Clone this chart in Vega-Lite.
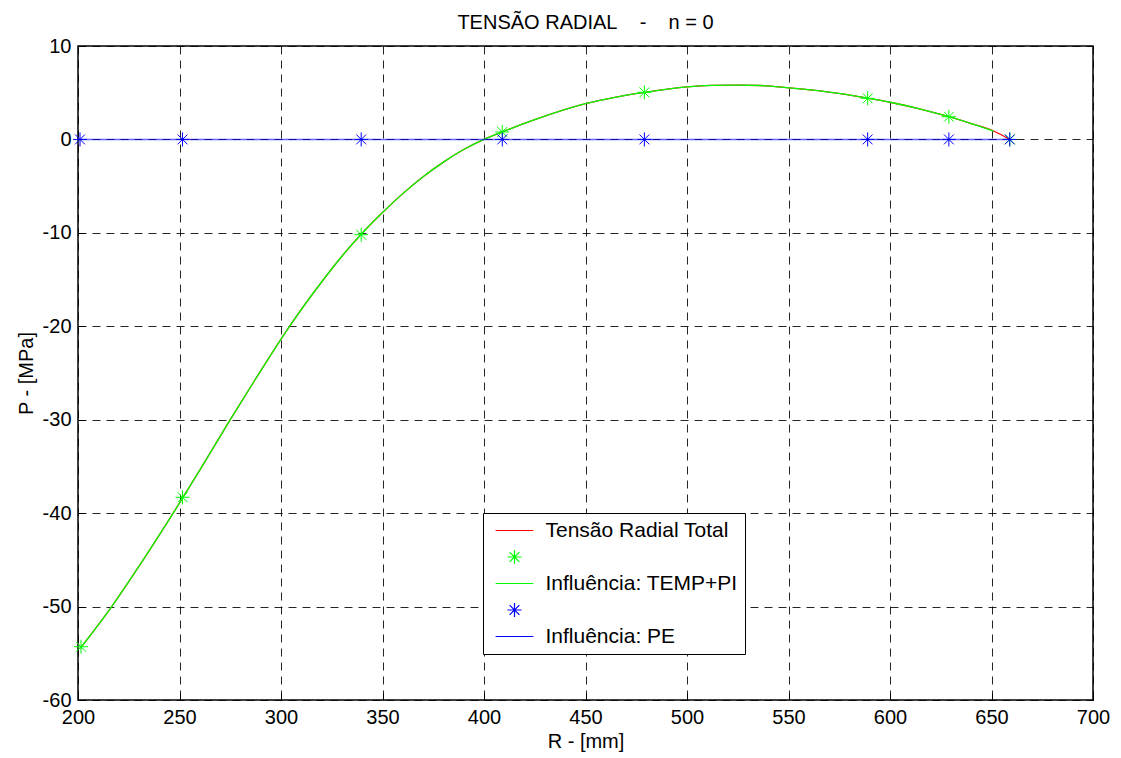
{
  "$schema": "https://vega.github.io/schema/vega-lite/v6.json",
  "width": 1015,
  "height": 654,
  "autosize": {"type": "none"},
  "padding": {"left": 78, "top": 46, "right": 28, "bottom": 58},
  "background": "white",
  "title": {
    "text": "TENSÃO RADIAL\u00a0\u00a0\u00a0\u00a0-\u00a0\u00a0\u00a0\u00a0n = 0",
    "font": "Liberation Sans",
    "fontSize": 20,
    "fontWeight": "normal",
    "color": "black",
    "anchor": "middle",
    "baseline": "bottom",
    "offset": -17
  },
  "datasets": {
    "lines": [
      {"s": "Tensão Radial Total", "r": 201, "p": -54.5},
      {"s": "Tensão Radial Total", "r": 216.6, "p": -50},
      {"s": "Tensão Radial Total", "r": 230, "p": -45.7},
      {"s": "Tensão Radial Total", "r": 246.9, "p": -40},
      {"s": "Tensão Radial Total", "r": 260, "p": -35.4},
      {"s": "Tensão Radial Total", "r": 274.7, "p": -30.1},
      {"s": "Tensão Radial Total", "r": 287, "p": -25.8},
      {"s": "Tensão Radial Total", "r": 304.2, "p": -20},
      {"s": "Tensão Radial Total", "r": 320, "p": -15.26},
      {"s": "Tensão Radial Total", "r": 330, "p": -12.5},
      {"s": "Tensão Radial Total", "r": 339.5, "p": -10.15},
      {"s": "Tensão Radial Total", "r": 350, "p": -7.83},
      {"s": "Tensão Radial Total", "r": 360, "p": -5.8},
      {"s": "Tensão Radial Total", "r": 370, "p": -4.0},
      {"s": "Tensão Radial Total", "r": 380, "p": -2.43},
      {"s": "Tensão Radial Total", "r": 390, "p": -1.08},
      {"s": "Tensão Radial Total", "r": 400, "p": 0},
      {"s": "Tensão Radial Total", "r": 409, "p": 0.8},
      {"s": "Tensão Radial Total", "r": 425, "p": 2.11},
      {"s": "Tensão Radial Total", "r": 450, "p": 3.82},
      {"s": "Tensão Radial Total", "r": 465, "p": 4.53},
      {"s": "Tensão Radial Total", "r": 479, "p": 5.03},
      {"s": "Tensão Radial Total", "r": 500, "p": 5.62},
      {"s": "Tensão Radial Total", "r": 512, "p": 5.78},
      {"s": "Tensão Radial Total", "r": 525, "p": 5.82},
      {"s": "Tensão Radial Total", "r": 536, "p": 5.77},
      {"s": "Tensão Radial Total", "r": 549, "p": 5.55},
      {"s": "Tensão Radial Total", "r": 562, "p": 5.27},
      {"s": "Tensão Radial Total", "r": 574.6, "p": 4.93},
      {"s": "Tensão Radial Total", "r": 589, "p": 4.42},
      {"s": "Tensão Radial Total", "r": 600, "p": 3.98},
      {"s": "Tensão Radial Total", "r": 615, "p": 3.25},
      {"s": "Tensão Radial Total", "r": 629, "p": 2.43},
      {"s": "Tensão Radial Total", "r": 640, "p": 1.7},
      {"s": "Tensão Radial Total", "r": 651, "p": 0.9},
      {"s": "Tensão Radial Total", "r": 659, "p": 0},
      {"s": "Influência: TEMP+PI", "r": 201, "p": -54.5},
      {"s": "Influência: TEMP+PI", "r": 216.6, "p": -50},
      {"s": "Influência: TEMP+PI", "r": 230, "p": -45.7},
      {"s": "Influência: TEMP+PI", "r": 246.9, "p": -40},
      {"s": "Influência: TEMP+PI", "r": 260, "p": -35.4},
      {"s": "Influência: TEMP+PI", "r": 274.7, "p": -30.1},
      {"s": "Influência: TEMP+PI", "r": 287, "p": -25.8},
      {"s": "Influência: TEMP+PI", "r": 304.2, "p": -20},
      {"s": "Influência: TEMP+PI", "r": 320, "p": -15.26},
      {"s": "Influência: TEMP+PI", "r": 330, "p": -12.5},
      {"s": "Influência: TEMP+PI", "r": 339.5, "p": -10.15},
      {"s": "Influência: TEMP+PI", "r": 350, "p": -7.83},
      {"s": "Influência: TEMP+PI", "r": 360, "p": -5.8},
      {"s": "Influência: TEMP+PI", "r": 370, "p": -4.0},
      {"s": "Influência: TEMP+PI", "r": 380, "p": -2.43},
      {"s": "Influência: TEMP+PI", "r": 390, "p": -1.08},
      {"s": "Influência: TEMP+PI", "r": 400, "p": 0},
      {"s": "Influência: TEMP+PI", "r": 409, "p": 0.8},
      {"s": "Influência: TEMP+PI", "r": 425, "p": 2.11},
      {"s": "Influência: TEMP+PI", "r": 450, "p": 3.82},
      {"s": "Influência: TEMP+PI", "r": 465, "p": 4.53},
      {"s": "Influência: TEMP+PI", "r": 479, "p": 5.03},
      {"s": "Influência: TEMP+PI", "r": 500, "p": 5.62},
      {"s": "Influência: TEMP+PI", "r": 512, "p": 5.78},
      {"s": "Influência: TEMP+PI", "r": 525, "p": 5.82},
      {"s": "Influência: TEMP+PI", "r": 536, "p": 5.77},
      {"s": "Influência: TEMP+PI", "r": 549, "p": 5.55},
      {"s": "Influência: TEMP+PI", "r": 562, "p": 5.27},
      {"s": "Influência: TEMP+PI", "r": 574.6, "p": 4.93},
      {"s": "Influência: TEMP+PI", "r": 589, "p": 4.42},
      {"s": "Influência: TEMP+PI", "r": 600, "p": 3.98},
      {"s": "Influência: TEMP+PI", "r": 615, "p": 3.25},
      {"s": "Influência: TEMP+PI", "r": 629, "p": 2.43},
      {"s": "Influência: TEMP+PI", "r": 640, "p": 1.7},
      {"s": "Influência: TEMP+PI", "r": 651, "p": 0.9},
      {"s": "Influência: PE", "r": 201, "p": 0},
      {"s": "Influência: PE", "r": 251.5, "p": 0},
      {"s": "Influência: PE", "r": 339.5, "p": 0},
      {"s": "Influência: PE", "r": 409, "p": 0},
      {"s": "Influência: PE", "r": 479, "p": 0},
      {"s": "Influência: PE", "r": 589, "p": 0},
      {"s": "Influência: PE", "r": 629, "p": 0},
      {"s": "Influência: PE", "r": 659, "p": 0}
    ],
    "stars": [
      {"s": "star_green", "r": 201.5, "p": -54.3},
      {"s": "star_green", "r": 251.5, "p": -38.3},
      {"s": "star_green", "r": 339.5, "p": -10.2},
      {"s": "star_green", "r": 409, "p": 0.8},
      {"s": "star_green", "r": 479, "p": 5.04},
      {"s": "star_green", "r": 589, "p": 4.4},
      {"s": "star_green", "r": 629, "p": 2.43},
      {"s": "star_green", "r": 659, "p": 0},
      {"s": "star_blue", "r": 201, "p": 0},
      {"s": "star_blue", "r": 251.5, "p": 0},
      {"s": "star_blue", "r": 339.5, "p": 0},
      {"s": "star_blue", "r": 409, "p": 0},
      {"s": "star_blue", "r": 479, "p": 0},
      {"s": "star_blue", "r": 589, "p": 0},
      {"s": "star_blue", "r": 629, "p": 0},
      {"s": "star_blue", "r": 659, "p": 0}
    ]
  },
  "encoding": {
    "x": {
      "field": "r",
      "type": "quantitative",
      "scale": {"domain": [200, 700], "nice": false, "zero": false},
      "axis": {
        "title": "R - [mm]",
        "values": [200, 250, 300, 350, 400, 450, 500, 550, 600, 650, 700],
        "titlePadding": 4
      }
    },
    "y": {
      "field": "p",
      "type": "quantitative",
      "scale": {"domain": [-60, 10], "nice": false, "zero": false},
      "axis": {
        "title": "P - [MPa]",
        "values": [-60, -50, -40, -30, -20, -10, 0, 10],
        "labelExpr": "replace(datum.label, '\u2212', '-')",
        "titlePadding": 6
      }
    },
    "color": {
      "field": "s",
      "type": "nominal",
      "scale": {"domain": ["Tensão Radial Total", "star_green", "Influência: TEMP+PI", "star_blue", "Influência: PE"], "range": ["#ff0000", "#00ff00", "#00ff00", "#0000ff", "#0000ff"]},
      "legend": {"orient": "none", "legendX": 405, "legendY": 467, "title": null, "labelExpr": "indexof(datum.label, 'star') == 0 ? '' : datum.label", "padding": 7, "rowPadding": 4.5, "symbolOffset": 14, "labelOffset": 20.5, "symbolSize": 196, "symbolStrokeWidth": 1.2, "symbolFillColor": "transparent", "labelFont": "Liberation Sans", "labelFontSize": 21, "labelColor": "black", "strokeColor": "black", "fillColor": "white", "labelLimit": 400}
    }
  },
  "layer": [
    {
      "data": {"name": "lines"},
      "transform": [{"filter": "datum.s == 'Tensão Radial Total'"}],
      "mark": {"type": "line", "strokeWidth": 1.3, "interpolate": "monotone"}
    },
    {
      "data": {"name": "stars"},
      "transform": [{"filter": "datum.s == 'star_green'"}],
      "mark": {"type": "point", "filled": false, "size": 196, "strokeWidth": 1, "opacity": 1},
      "encoding": {
        "shape": {"field": "s", "type": "nominal", "scale": {"domain": ["Tensão Radial Total", "star_green", "Influência: TEMP+PI", "star_blue", "Influência: PE"], "range": ["M-2.7,0L2.7,0", "M0,-1L0,1M-1,0L1,0M-0.7,-0.7L0.7,0.7M-0.7,0.7L0.7,-0.7", "M-2.7,0L2.7,0", "M0,-1L0,1M-1,0L1,0M-0.7,-0.7L0.7,0.7M-0.7,0.7L0.7,-0.7", "M-2.7,0L2.7,0"]}, "legend": {"orient": "none", "legendX": 405, "legendY": 467, "title": null, "labelExpr": "indexof(datum.label, 'star') == 0 ? '' : datum.label", "padding": 7, "rowPadding": 4.5, "symbolOffset": 14, "labelOffset": 20.5, "symbolSize": 196, "symbolStrokeWidth": 1.2, "symbolFillColor": "transparent", "labelFont": "Liberation Sans", "labelFontSize": 21, "labelColor": "black", "strokeColor": "black", "fillColor": "white", "labelLimit": 400}}
      }
    },
    {
      "data": {"name": "lines"},
      "transform": [{"filter": "datum.s == 'Influência: TEMP+PI'"}],
      "mark": {"type": "line", "strokeWidth": 1.3, "interpolate": "monotone"}
    },
    {
      "data": {"name": "stars"},
      "transform": [{"filter": "datum.s == 'star_blue'"}],
      "mark": {"type": "point", "filled": false, "size": 196, "strokeWidth": 1, "opacity": 1},
      "encoding": {
        "shape": {"field": "s", "type": "nominal", "scale": {"domain": ["Tensão Radial Total", "star_green", "Influência: TEMP+PI", "star_blue", "Influência: PE"], "range": ["M-2.7,0L2.7,0", "M0,-1L0,1M-1,0L1,0M-0.7,-0.7L0.7,0.7M-0.7,0.7L0.7,-0.7", "M-2.7,0L2.7,0", "M0,-1L0,1M-1,0L1,0M-0.7,-0.7L0.7,0.7M-0.7,0.7L0.7,-0.7", "M-2.7,0L2.7,0"]}, "legend": {"orient": "none", "legendX": 405, "legendY": 467, "title": null, "labelExpr": "indexof(datum.label, 'star') == 0 ? '' : datum.label", "padding": 7, "rowPadding": 4.5, "symbolOffset": 14, "labelOffset": 20.5, "symbolSize": 196, "symbolStrokeWidth": 1.2, "symbolFillColor": "transparent", "labelFont": "Liberation Sans", "labelFontSize": 21, "labelColor": "black", "strokeColor": "black", "fillColor": "white", "labelLimit": 400}}
      }
    },
    {
      "data": {"name": "lines"},
      "transform": [{"filter": "datum.s == 'Influência: PE'"}],
      "mark": {"type": "line", "strokeWidth": 1.5, "opacity": 0.6}
    }
  ],
  "config": {
    "view": {"stroke": "black", "strokeWidth": 1.5},
    "axis": {
      "domain": false,
      "grid": true,
      "gridColor": "black",
      "gridDash": [8, 6],
      "gridOpacity": 0.85,
      "gridWidth": 1,
      "ticks": true,
      "tickColor": "black",
      "tickSize": -7,
      "tickWidth": 1,
      "labelPadding": 14,
      "labelFont": "Liberation Sans",
      "labelFontSize": 20,
      "labelColor": "black",
      "titleFont": "Liberation Sans",
      "titleFontSize": 20,
      "titleFontWeight": "normal",
      "titleColor": "black",
      "labelFlush": false,
      "labelOverlap": false
    }
  }
}
